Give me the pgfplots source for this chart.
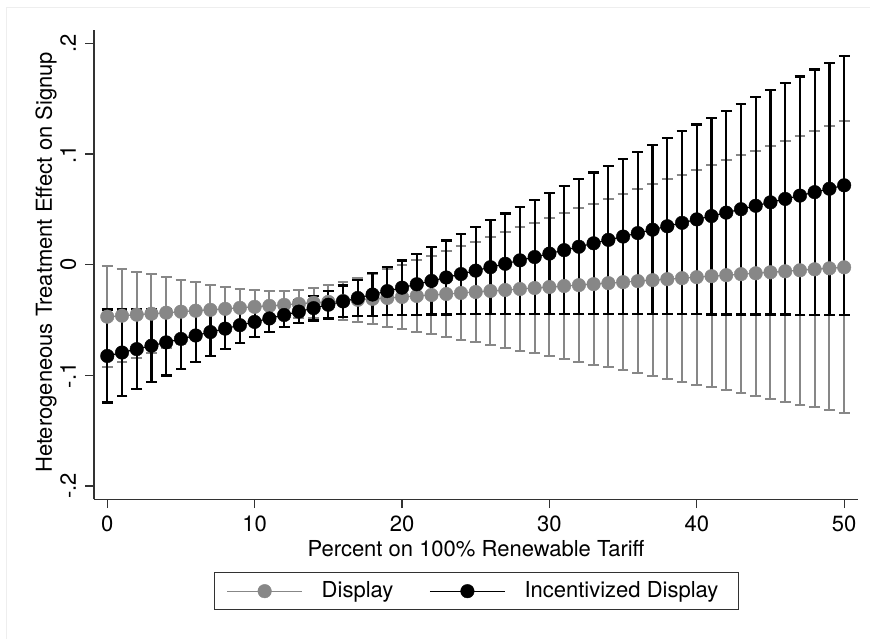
\documentclass[border=0pt]{standalone}
\usepackage{fontspec}
\setmainfont{TeX Gyre Heros}
\usepackage{pgfplots}
\usepackage{pgfplotstable}
\pgfplotsset{compat=1.18}
\definecolor{stgray}{RGB}{135,135,135}
\definecolor{axgray}{RGB}{50,50,50}
\definecolor{framegray}{RGB}{238,238,238}

\pgfplotstableread{
x y e
0 -0.0470 0.04550
1 -0.0461 0.04214
2 -0.0452 0.03880
3 -0.0443 0.03550
4 -0.0434 0.03223
5 -0.0425 0.02903
6 -0.0416 0.02590
7 -0.0408 0.02287
8 -0.0399 0.02001
9 -0.0390 0.01738
10 -0.0381 0.01510
11 -0.0372 0.01336
12 -0.0363 0.01240
13 -0.0354 0.01238
14 -0.0345 0.01332
15 -0.0336 0.01504
16 -0.0327 0.01730
17 -0.0318 0.01992
18 -0.0309 0.02278
19 -0.0301 0.02580
20 -0.0292 0.02893
21 -0.0283 0.03214
22 -0.0274 0.03540
23 -0.0265 0.03870
24 -0.0256 0.04203
25 -0.0247 0.04539
26 -0.0238 0.04877
27 -0.0229 0.05217
28 -0.0220 0.05558
29 -0.0211 0.05900
30 -0.0202 0.06243
31 -0.0193 0.06586
32 -0.0185 0.06930
33 -0.0176 0.07275
34 -0.0167 0.07621
35 -0.0158 0.07966
36 -0.0149 0.08312
37 -0.0140 0.08659
38 -0.0131 0.09005
39 -0.0122 0.09352
40 -0.0113 0.09700
41 -0.0104 0.10047
42 -0.0095 0.10394
43 -0.0086 0.10742
44 -0.0078 0.11090
45 -0.0069 0.11438
46 -0.0060 0.11786
47 -0.0051 0.12134
48 -0.0042 0.12483
49 -0.0033 0.12831
50 -0.0024 0.13180
}\displaytab

\pgfplotstableread{
x y e
0 -0.0825 0.04200
1 -0.0794 0.03897
2 -0.0763 0.03595
3 -0.0732 0.03296
4 -0.0702 0.03000
5 -0.0671 0.02708
6 -0.0640 0.02421
7 -0.0609 0.02142
8 -0.0578 0.01875
9 -0.0547 0.01625
10 -0.0517 0.01401
11 -0.0486 0.01217
12 -0.0455 0.01095
13 -0.0424 0.01055
14 -0.0393 0.01107
15 -0.0362 0.01239
16 -0.0332 0.01429
17 -0.0301 0.01658
18 -0.0270 0.01911
19 -0.0239 0.02180
20 -0.0208 0.02460
21 -0.0177 0.02747
22 -0.0147 0.03040
23 -0.0116 0.03336
24 -0.0085 0.03636
25 -0.0054 0.03938
26 -0.0023 0.04241
27 0.0008 0.04547
28 0.0039 0.04853
29 0.0069 0.05160
30 0.0100 0.05468
31 0.0131 0.05777
32 0.0162 0.06086
33 0.0193 0.06396
34 0.0224 0.06707
35 0.0254 0.07017
36 0.0285 0.07328
37 0.0316 0.07639
38 0.0347 0.07951
39 0.0378 0.08262
40 0.0409 0.08574
41 0.0439 0.08886
42 0.0470 0.09199
43 0.0501 0.09511
44 0.0532 0.09823
45 0.0563 0.10136
46 0.0594 0.10449
47 0.0624 0.10762
48 0.0655 0.11075
49 0.0686 0.11387
50 0.0717 0.11700
}\incenttab

\begin{document}
\begin{tikzpicture}
\useasboundingbox (-47pt,-69.85pt) rectangle (388pt,249.65pt);
\draw[framegray, line width=0.5pt] (-43.5pt,-69.85pt) -- (-43.5pt,246.15pt) -- (388pt,246.15pt);
\begin{axis}[
  at={(0,0)}, anchor=south west,
  scale only axis,
  width=382pt, height=234.65pt,
  xmin=-0.9, xmax=50.94,
  ymin=-0.212, ymax=0.212,
  axis x line*=bottom, axis y line*=left,
  axis line style={-, draw=axgray, line width=0.6pt},
  every tick/.style={draw=axgray, line width=0.6pt},
  tick align=outside,
  major tick length=4.4pt,
  xtick={0,10,20,30,40,50},
  ytick={-0.2,-0.1,0,0.1,0.2},
  yticklabels={-.2,-.1,0,.1,.2},
  /pgf/number format/assume math mode=true,
  tick label style={font=\fontsize{11}{13}\selectfont, inner sep=0pt},
  yticklabel style={rotate=90, anchor=base},
  yticklabel shift=4.6pt,
  xticklabel style={anchor=base},
  xticklabel shift=11.7pt,
  label style={font=\fontsize{11}{13}\selectfont, inner sep=0pt},
  xlabel={Percent on 100\% Renewable Tariff},
  xlabel style={at={(axis description cs:0.5,0)}, anchor=base, yshift=-28.35pt},
  ylabel={Heterogeneous Treatment Effect on Signup},
  ylabel style={at={(axis description cs:-0.0551,0.505)}, anchor=base},
  legend columns=2,
  legend style={
    at={(axis description cs:0.157,-0.155)}, anchor=north west,
    draw=axgray, line width=0.6pt,
    inner xsep=6pt, inner ysep=4.5pt,
    font=\fontsize{11}{13}\selectfont,
    nodes={inner sep=0pt},
    /tikz/every odd column/.append style={column sep=9.5pt},
    /tikz/every even column/.append style={column sep=18pt},
  },
  legend image code/.code={
    \draw[mark repeat=2,mark phase=2,#1] plot coordinates {(0pt,0pt) (18.75pt,0pt) (37.5pt,0pt)};
  },
]
% confidence intervals
\addplot[forget plot, draw=none, mark=none,
  error bars/.cd, y dir=both, y explicit,
  error bar style={draw=stgray, line width=1pt},
  error mark options={rotate=90, draw=stgray, line width=1pt, mark size=2.7pt}]
  table[x=x, y=y, y error=e] {\displaytab};
\addplot[forget plot, draw=none, mark=none,
  error bars/.cd, y dir=both, y explicit,
  error bar style={draw=black, line width=1.1pt},
  error mark options={rotate=90, draw=black, line width=1.1pt, mark size=2.7pt}]
  table[x=x, y=y, y error=e] {\incenttab};
% point estimates
\addplot[color=stgray, line width=0.6pt, mark=*, mark size=3.4pt,
  mark options={solid, fill=stgray, draw=stgray, line width=0.2pt}]
  table[x=x, y=y] {\displaytab};
\addlegendentry{Display}
\addplot[color=black, line width=0.6pt, mark=*, mark size=3.4pt,
  mark options={solid, fill=black, draw=black, line width=0.2pt}]
  table[x=x, y=y] {\incenttab};
\addlegendentry{Incentivized Display\hspace*{4pt}}
\end{axis}
\end{tikzpicture}
\end{document}
